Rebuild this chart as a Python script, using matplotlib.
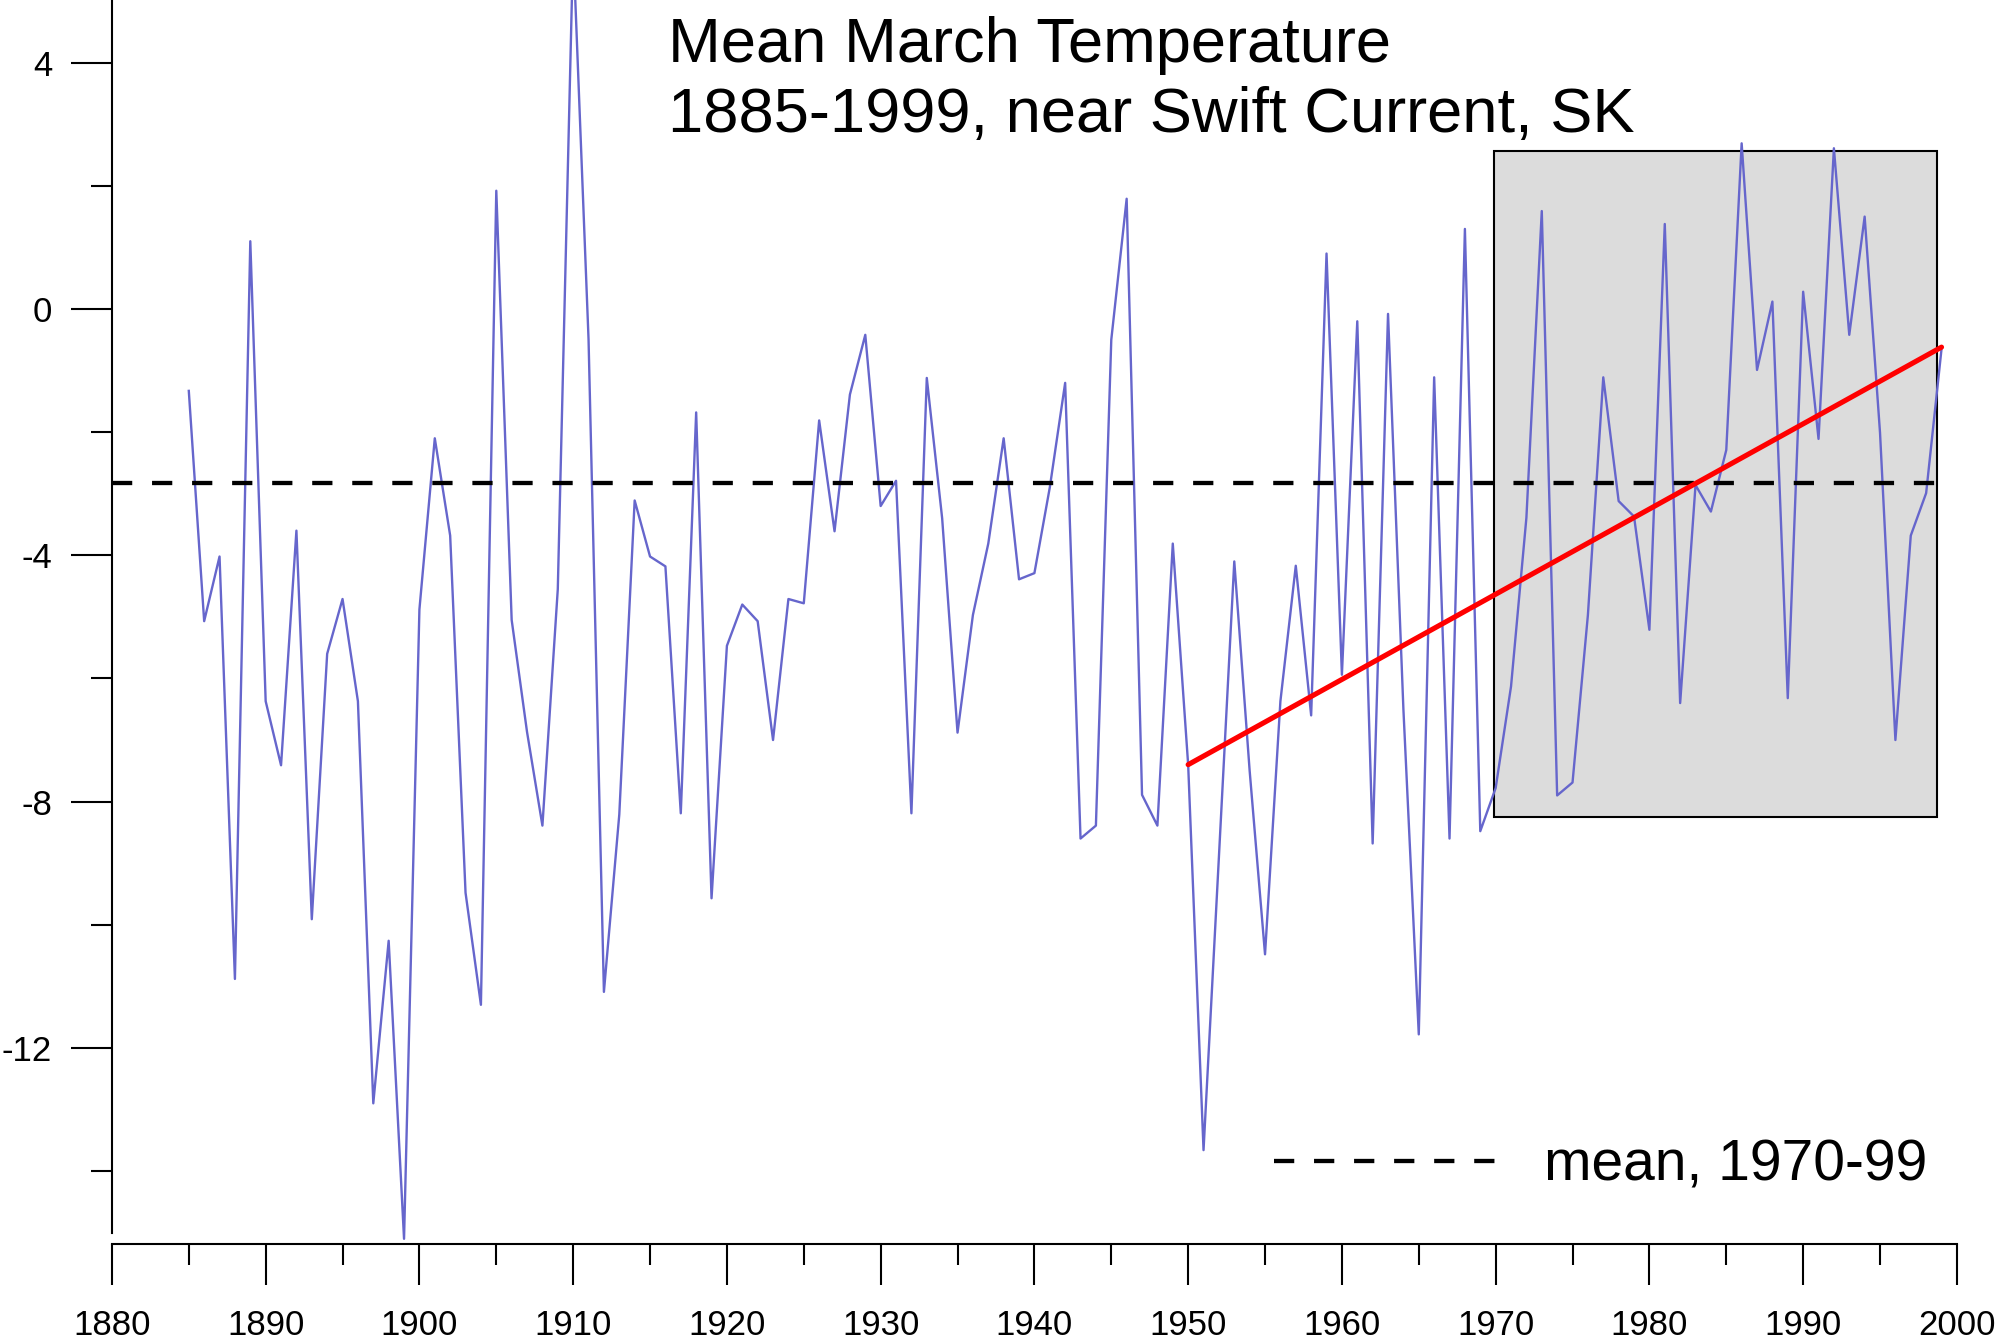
import matplotlib
matplotlib.use("Agg")
import matplotlib.pyplot as plt
from matplotlib.patches import Rectangle
from matplotlib.ticker import MultipleLocator

plt.rcParams['font.family'] = ['Liberation Sans', 'DejaVu Sans']
plt.rcParams['axes.unicode_minus'] = False

# mean March temperature, 1885-1999
years = list(range(1885, 2000))
temps = [
    -1.33, -5.07, -4.02, -10.88, 1.10, -6.37, -7.41, -3.60, -9.91, -5.60,      # 1885-1894
    -4.71, -6.37, -12.90, -10.26, -15.10, -4.88, -2.10, -3.68, -9.48, -11.30,  # 1895-1904
    1.92, -5.05, -6.87, -8.39, -4.55, 5.90, -0.49, -11.09, -8.21, -3.11,       # 1905-1914
    -4.02, -4.18, -8.19, -1.68, -9.57, -5.47, -4.80, -5.07, -7.00, -4.71,      # 1915-1924
    -4.78, -1.81, -3.61, -1.39, -0.42, -3.20, -2.79, -8.19, -1.12, -3.40,      # 1925-1934
    -6.88, -4.97, -3.81, -2.10, -4.39, -4.29, -2.90, -1.20, -8.60, -8.39,      # 1935-1944
    -0.50, 1.79, -7.89, -8.39, -3.81, -7.40, -13.66, -8.90, -4.10, -7.50,      # 1945-1954
    -10.48, -6.37, -4.17, -6.60, 0.90, -5.94, -0.20, -8.68, -0.08, -6.50,      # 1955-1964
    -11.78, -1.11, -8.60, 1.30, -8.48, -7.78, -6.13, -3.39, 1.59, -7.90,       # 1965-1974
    -7.69, -4.97, -1.11, -3.12, -3.37, -5.21, 1.38, -6.40, -2.86, -3.29,       # 1975-1984
    -2.29, 2.69, -0.99, 0.12, -6.32, 0.28, -2.11, 2.61, -0.42, 1.50,           # 1985-1994
    -2.01, -7.00, -3.68, -2.99, -0.65,                                         # 1995-1999
]

mean_value = -2.83
mean_years = [1880, 1998.7]
trend_years = [1950, 1999]
trend_temps = [-7.40, -0.62]
box_years = [1969.9, 1998.7]
box_temps = [-8.25, 2.56]

fig = plt.figure(figsize=(19.95, 13.41), dpi=100)
ax = fig.add_axes([0.0561, 0.0808, 0.9248, 0.9184])

# grey box over 1970-99
ax.add_patch(Rectangle((box_years[0], box_temps[0]),
                       box_years[1] - box_years[0], box_temps[1] - box_temps[0],
                       facecolor='#dcdcdc', edgecolor='black', linewidth=1.5, zorder=1))

ax.plot(years, temps, color='#6666cc', linewidth=1.7, zorder=2, clip_on=False)

mean_line, = ax.plot(mean_years, [mean_value, mean_value], color='black',
                     linewidth=3.1, linestyle=(0, (4.7, 4.6)), zorder=3)

ax.plot(trend_years, trend_temps, color='red', linewidth=3.7,
        solid_capstyle='round', zorder=4)

ax.set_xlim(1880, 2000)
ax.set_ylim(-15, 5)

ax.spines['top'].set_visible(False)
ax.spines['right'].set_visible(False)
ax.spines['bottom'].set_position(('outward', 8.2))
ax.spines['left'].set_linewidth(1.5)
ax.spines['bottom'].set_linewidth(1.5)

ax.xaxis.set_major_locator(MultipleLocator(10))
ax.xaxis.set_minor_locator(MultipleLocator(5))
ax.yaxis.set_major_locator(MultipleLocator(4))
ax.yaxis.set_minor_locator(MultipleLocator(2))

ax.tick_params(axis='both', which='major', direction='out', length=29.5,
               width=1.5, labelsize=25)
ax.tick_params(axis='both', which='minor', direction='out', length=15, width=1.5)
ax.tick_params(axis='x', which='major', pad=17)
ax.tick_params(axis='y', which='major', pad=13.5)

fig.text(0.3348, 0.95399, 'Mean March Temperature', fontsize=45.5, va='baseline')
fig.text(0.3348, 0.90179, '1885-1999, near Swift Current, SK', fontsize=45.5,
         va='baseline')

ax.legend([mean_line], ['mean, 1970-99'], loc='center left',
          bbox_to_anchor=(0.6297, 0.0544), frameon=False, fontsize=41,
          handlelength=3.98, handletextpad=0.77, borderpad=0, borderaxespad=0)

fig.savefig('out.png', dpi=100)
